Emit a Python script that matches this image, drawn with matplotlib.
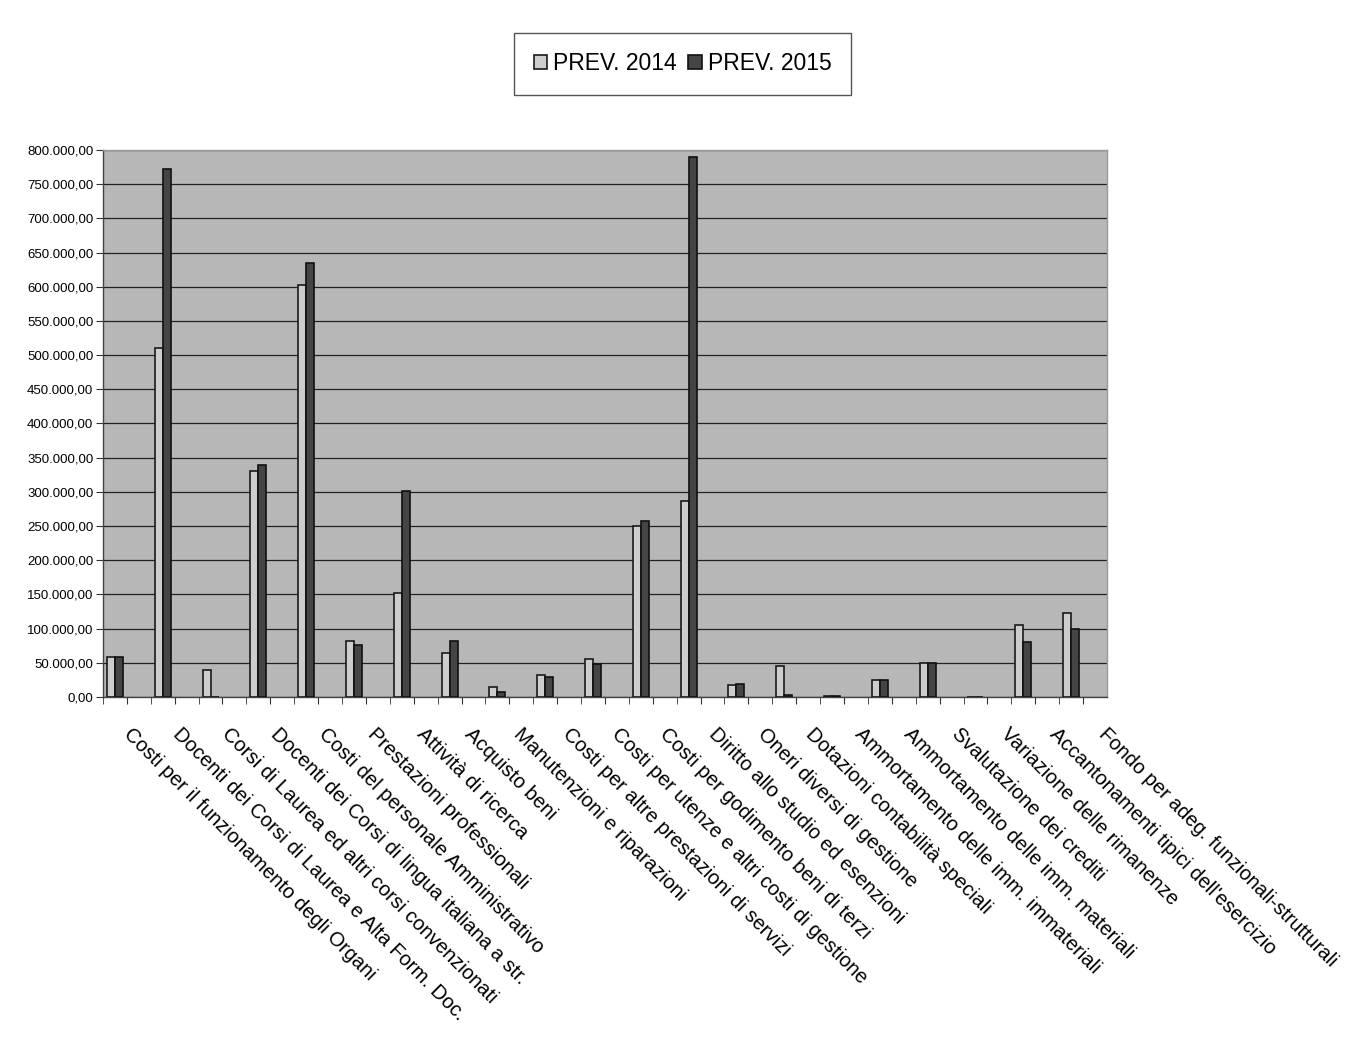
import numpy as np
import matplotlib
matplotlib.use("Agg")
import matplotlib.pyplot as plt
from matplotlib.ticker import FuncFormatter, MultipleLocator
from matplotlib.transforms import ScaledTranslation

plt.rcParams["font.family"] = ["Liberation Sans", "DejaVu Sans"]

CATEGORIES = [
    "Costi per il funzionamento degli Organi",
    "Docenti dei Corsi di Laurea e Alta Form. Doc.",
    "Corsi di Laurea ed altri corsi convenzionati",
    "Docenti dei Corsi di lingua italiana a str.",
    "Costi del personale Amministrativo",
    "Prestazioni professionali",
    "Attività di ricerca",
    "Acquisto beni",
    "Manutenzioni e riparazioni",
    "Costi per altre prestazioni di servizi",
    "Costi per utenze e altri costi di gestione",
    "Costi per godimento beni di terzi",
    "Diritto allo studio ed esenzioni",
    "Oneri diversi di gestione",
    "Dotazioni contabilità speciali",
    "Ammortamento delle imm. immateriali",
    "Ammortamento delle imm. materiali",
    "Svalutazione dei crediti",
    "Variazione delle rimanenze",
    "Accantonamenti tipici dell'esercizio",
    "Fondo per adeg. funzionali-strutturali",
]
PREV_2014 = [58000, 510000, 40000, 330000, 602000, 82000, 152000, 65000, 15000, 32000,
             55000, 250000, 287000, 18000, 45000, 1000, 25000, 50000, 0, 105000, 123000]
PREV_2015 = [58000, 772000, 0, 340000, 635000, 76000, 302000, 82000, 7000, 29000,
             49000, 257000, 790000, 19000, 3000, 1000, 25000, 50000, 0, 80000, 100000]


def it_fmt(v, _):
    s = f"{v:,.2f}"
    return s.replace(",", "X").replace(".", ",").replace("X", ".")


fig = plt.figure(figsize=(13.46, 10.45), dpi=100, facecolor="white")
ax = fig.add_axes([0.0765, 0.333, 0.7459, 0.5235])
ax.set_facecolor("#b7b7b7")

idx = np.arange(len(CATEGORIES))
w = 0.167
ax.bar(idx + 0.083 + w / 2, PREV_2014, width=w, color="#cdcdcd", edgecolor="#1a1a1a",
       linewidth=1.2, label="PREV. 2014", zorder=3)
ax.bar(idx + 0.083 + 1.5 * w, PREV_2015, width=w, color="#454545", edgecolor="#111111",
       linewidth=1.2, label="PREV. 2015", zorder=3)

ax.set_xlim(0, len(CATEGORIES))
ax.set_ylim(0, 800000)
ax.yaxis.set_major_locator(MultipleLocator(50000))
ax.yaxis.set_major_formatter(FuncFormatter(it_fmt))
ax.grid(axis="y", color="#222222", linewidth=0.9, zorder=1)

ax.set_xticks(idx + 0.5)
ax.set_xticks(idx, minor=True)
ax.set_xticklabels(CATEGORIES, rotation=-45, ha="left", va="top",
                   rotation_mode="anchor", fontsize=14.5)
ax.tick_params(axis="x", which="both", length=5, direction="out", pad=15, color="#333")
ax.tick_params(axis="y", length=5, direction="out", labelsize=9.5, pad=2, color="#333")

# the scanned labels sit a bit right of the tick and drift right across the axis
for i, lab in enumerate(ax.get_xticklabels()):
    dx = (7 + i * 0.9) / 100
    lab.set_transform(lab.get_transform() + ScaledTranslation(dx, 0, fig.dpi_scale_trans))

for side, sp in ax.spines.items():
    sp.set_color("#444444" if side in ("left", "bottom") else "#999999")
    sp.set_linewidth(1.0)

leg = fig.legend(loc="center", bbox_to_anchor=(0.507, 0.939), ncol=2, fontsize=16.5,
                 frameon=True, fancybox=False, edgecolor="#555555", framealpha=1,
                 handlelength=0.6, handleheight=0.6, handletextpad=0.25, columnspacing=0.5,
                 borderpad=0.85)
leg.get_frame().set_linewidth(1.0)

fig.savefig("out.png", dpi=100, facecolor=fig.get_facecolor())
plt.close(fig)
